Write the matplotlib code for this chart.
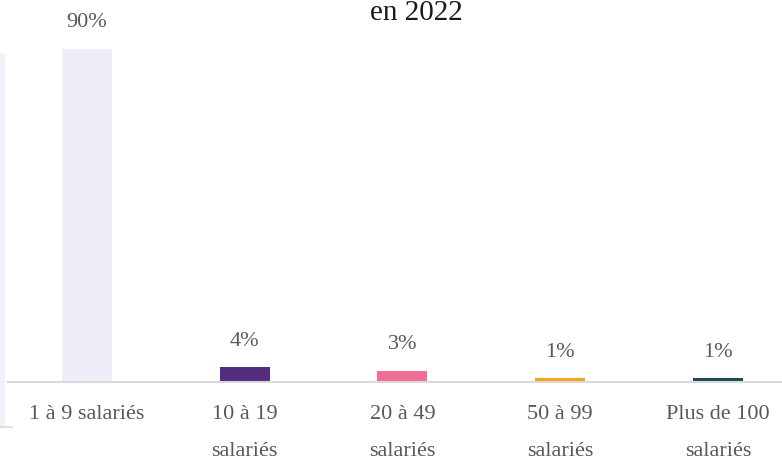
import matplotlib.pyplot as plt
from matplotlib.patches import Rectangle

# tranches d'effectif et part des entreprises (%)
categories = ["1 à 9 salariés", "10 à 19\nsalariés", "20 à 49\nsalariés",
              "50 à 99\nsalariés", "Plus de 100\nsalariés"]
values = [90, 4, 3, 1, 1]
value_labels = ["90%", "4%", "3%", "1%", "1%"]
colors = ["#F0ECF8", "#522D80", "#EE6F91", "#F5A41C", "#1C4A50"]

W, H = 782, 460
fig = plt.figure(figsize=(W / 100, H / 100), dpi=100)
plt.rcParams["font.family"] = ["Liberation Serif", "DejaVu Serif"]

# axes: baseline at y=383px, 90% top at y=50px, bars spaced ~157.75px
left = 8 / W
width = (157.75 * 5) / W
bottom = (H - 383) / H
height = 333 / H
ax = fig.add_axes([left, bottom, width, height])

x = list(range(len(categories)))
ax.bar(x, values, width=0.317, color=colors, zorder=2)
ax.set_xlim(-0.5, 4.5)
ax.set_ylim(0, 90)

for xi, v, lab in zip(x, values, value_labels):
    ax.annotate(lab, (xi, v), xytext=(0, 19.5), textcoords="offset points",
                ha="center", va="center", fontsize=16, color="#595959",
                annotation_clip=False)

ax.set_xticks(x)
ax.set_xticklabels(categories, fontsize=16, color="#595959", linespacing=2.25)
ax.tick_params(axis="x", length=0, pad=16)
ax.set_yticks([])
for s in ["top", "right", "left"]:
    ax.spines[s].set_visible(False)
ax.spines["bottom"].set_color("#D9D9D9")
ax.spines["bottom"].set_linewidth(1.5)

# title (top part cropped in the reference)
fig.text(416 / W, 1 - 13 / H, "en 2022", ha="center", va="center",
         fontsize=21, color="#1a1a1a")

# faint panel edge on the far left
fig.patches.append(Rectangle((0, (H - 428) / H), 5 / W, 374 / H,
                             transform=fig.transFigure, facecolor="#F3F0FA",
                             edgecolor="none", zorder=0))
fig.lines.append(plt.Line2D([0, 12 / W], [(H - 428) / H] * 2,
                            transform=fig.transFigure, color="#D9D9D9", lw=1.2))

fig.savefig("out.png", dpi=100)
